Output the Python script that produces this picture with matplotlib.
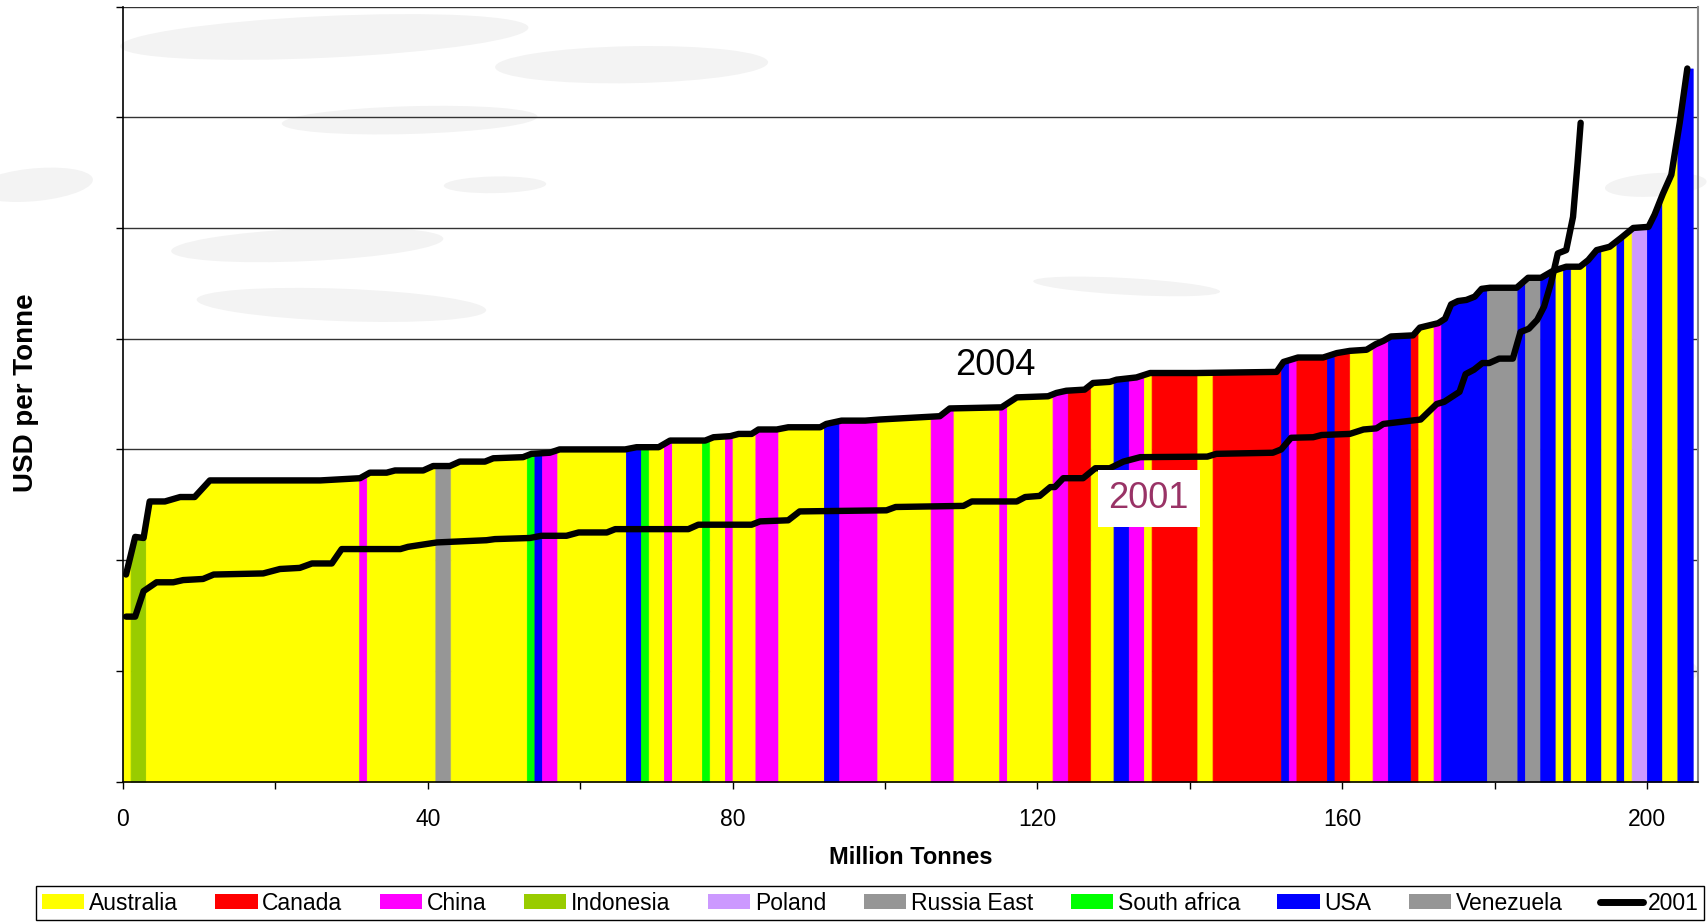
import numpy as np
import matplotlib
matplotlib.use("Agg")
import matplotlib.pyplot as plt
from matplotlib.patches import Patch, Ellipse
from matplotlib.lines import Line2D
from matplotlib import font_manager

# cumulative tonnage boundaries of each supply block (Mt) and the country of each block
band_edges = [0, 1, 3, 31, 32, 41, 43, 53, 54, 55, 57, 66, 68, 69, 71, 72, 76, 77, 79, 80,
              83, 86, 92, 94, 99, 106, 109, 115, 116, 122, 124, 127, 130, 132, 134, 135,
              141, 143, 152, 153, 154, 158, 159, 161, 164, 166, 169, 170, 172, 173, 179,
              183, 184, 186, 188, 189, 190, 192, 194, 196, 197, 198, 200, 202, 204, 206]
band_country = ['Australia', 'Indonesia', 'Australia', 'China', 'Australia', 'Venezuela',
                'Australia', 'South africa', 'USA', 'China', 'Australia', 'USA',
                'South africa', 'Australia', 'China', 'Australia', 'South africa',
                'Australia', 'China', 'Australia', 'China', 'Australia', 'USA', 'China',
                'Australia', 'China', 'Australia', 'China', 'Australia', 'China', 'Canada',
                'Australia', 'USA', 'China', 'Australia', 'Canada', 'Australia', 'Canada',
                'USA', 'China', 'Canada', 'USA', 'Canada', 'Australia', 'China', 'USA',
                'Canada', 'Australia', 'China', 'USA', 'Russia East', 'USA', 'Russia East',
                'USA', 'Australia', 'USA', 'Australia', 'USA', 'Australia', 'USA',
                'Australia', 'Poland', 'USA', 'Australia', 'USA']

# 2004 cost curve (USD per tonne)
x2004 = [0.4, 1.6, 2.7, 3.5, 5.5, 7.5, 9.4, 11.4, 25.9, 31.1, 32.4, 34.6, 35.7, 39.4, 40.7,
         42.9, 44.2, 47.5, 48.6, 52.5, 53.6, 56.0, 57.3, 65.9, 67.4, 70.3, 71.8, 76.4, 77.5,
         79.7, 80.8, 82.5, 83.4, 85.8, 87.3, 91.5, 92.3, 94.3, 97.4, 99.3, 107.2, 108.5,
         115.3, 117.3, 121.4, 122.5, 123.8, 126.2, 127.3, 129.5, 130.4, 133.0, 134.8, 140.9,
         151.4, 152.3, 154.2, 157.5, 159.3, 161.0, 163.2, 164.4, 165.4, 166.4, 169.3, 170.2,
         172.6, 173.5, 174.3, 175.2, 176.3, 177.4, 178.3, 179.4, 182.9, 184.4, 186.1, 187.6,
         189.4, 191.2, 192.3, 193.4, 195.1, 196.6, 198.2, 200.2, 201.0, 202.1, 203.2, 204.3,
         205.3]
y2004 = [18.7, 22.1, 22.0, 25.3, 25.3, 25.7, 25.7, 27.2, 27.2, 27.4, 27.9, 27.9, 28.1, 28.1,
         28.5, 28.5, 28.9, 28.9, 29.2, 29.3, 29.6, 29.7, 30.0, 30.0, 30.2, 30.2, 30.8, 30.8,
         31.1, 31.2, 31.4, 31.4, 31.8, 31.8, 32.0, 32.0, 32.3, 32.6, 32.6, 32.7, 33.0, 33.7,
         33.8, 34.7, 34.8, 35.1, 35.3, 35.4, 36.0, 36.1, 36.3, 36.5, 36.9, 36.9, 37.0, 37.9,
         38.3, 38.3, 38.7, 38.9, 39.0, 39.5, 39.8, 40.2, 40.3, 41.0, 41.4, 41.8, 43.1, 43.4,
         43.5, 43.8, 44.5, 44.6, 44.6, 45.5, 45.5, 46.1, 46.5, 46.5, 47.1, 48.0, 48.3, 49.1,
         50.0, 50.1, 51.2, 53.1, 54.8, 59.5, 64.4]

# 2001 cost curve (USD per tonne)
x2001 = [0.4, 1.6, 2.7, 4.4, 6.6, 7.9, 10.5, 11.9, 18.4, 20.6, 23.2, 24.8, 27.4, 28.7, 36.4,
         37.4, 41.2, 47.7, 48.8, 53.4, 54.9, 58.2, 59.8, 63.5, 64.6, 74.2, 75.5, 82.5, 83.6,
         87.3, 88.8, 100.2, 101.4, 110.3, 111.4, 117.3, 118.4, 120.3, 121.7, 122.3, 123.4,
         126.0, 127.6, 129.5, 131.3, 133.5, 142.3, 143.5, 150.9, 152.0, 153.3, 156.2, 157.3,
         161.0, 162.8, 164.5, 165.4, 170.3, 172.4, 173.4, 175.4, 176.2, 177.3, 178.4, 179.3,
         180.6, 182.4, 183.4, 184.5, 185.6, 186.5, 187.4, 188.3, 189.4, 190.3, 190.9, 191.3]
y2001 = [14.9, 14.9, 17.2, 18.0, 18.0, 18.2, 18.3, 18.7, 18.8, 19.2, 19.3, 19.7, 19.7, 21.0,
         21.0, 21.2, 21.6, 21.8, 21.9, 22.0, 22.2, 22.2, 22.5, 22.5, 22.8, 22.8, 23.2, 23.2,
         23.5, 23.6, 24.4, 24.5, 24.8, 24.9, 25.3, 25.3, 25.7, 25.8, 26.6, 26.6, 27.4, 27.4,
         28.3, 28.3, 28.9, 29.3, 29.35, 29.6, 29.7, 30.0, 31.05, 31.1, 31.3, 31.4, 31.8, 31.9,
         32.3, 32.7, 34.1, 34.3, 35.2, 36.8, 37.2, 37.8, 37.8, 38.2, 38.2, 40.6, 40.9, 41.7,
         42.9, 45.0, 47.7, 48.0, 51.0, 55.9, 59.5]

legend_names = ['Australia', 'Canada', 'China', 'Indonesia', 'Poland', 'Russia East',
                'South africa', 'USA', 'Venezuela']
legend_colors = ['#FFFF00', '#FF0000', '#FF00FF', '#99CC00', '#CC99FF', '#969696',
                 '#00FF00', '#0000FF', '#969696']
colors = dict(zip(legend_names, legend_colors))

# fonts: narrow face for ticks / legend if present
names = {f.name for f in font_manager.fontManager.ttflist}
if 'Liberation Sans Narrow' in names:
    narrow = 'Liberation Sans Narrow'
    small = 19.5
else:
    narrow = 'Liberation Sans'
    small = 16.5
plt.rcParams['font.family'] = ['Liberation Sans', 'DejaVu Sans']

fig = plt.figure(figsize=(17.07, 9.24), dpi=100)
fig.patch.set_facecolor('white')

# faint grey streaks in the background
streaks = [(0.19, 0.96, 0.24, 0.045, 5), (0.37, 0.93, 0.16, 0.04, 2), (0.24, 0.87, 0.15, 0.03, 3),
           (0.29, 0.80, 0.06, 0.018, 2), (0.02, 0.80, 0.07, 0.035, 12), (0.18, 0.735, 0.16, 0.035, 5),
           (0.20, 0.67, 0.17, 0.035, -4), (0.66, 0.69, 0.11, 0.018, -6), (0.30, 0.48, 0.06, 0.018, 0),
           (0.97, 0.80, 0.06, 0.025, 8), (0.96, 0.27, 0.07, 0.045, 10)]
for cx, cy, w, h, ang in streaks:
    fig.add_artist(Ellipse((cx, cy), w, h, angle=ang, transform=fig.transFigure,
                           facecolor='#f3f3f3', edgecolor='none', zorder=0))

ax = fig.add_axes([123 / 1707, 1 - 781.6 / 924, (1698 - 123) / 1707, (781.6 - 6.5) / 924])
ax.set_facecolor('none')
ax.set_zorder(1)

# coloured supply blocks up to the 2004 curve
for i, country in enumerate(band_country):
    a, b = band_edges[i], band_edges[i + 1]
    xs = [a] + [p for p in x2004 if a < p < b] + [b]
    ys = np.interp(xs, x2004, y2004)
    ax.fill_between(xs, 0, ys, facecolor=colors[country], edgecolor=colors[country],
                    linewidth=0.6, zorder=2)

ax.plot(x2004, y2004, color='black', lw=4.6, solid_capstyle='round',
        solid_joinstyle='round', zorder=4)
ax.plot(x2001, y2001, color='black', lw=4.6, solid_capstyle='round',
        solid_joinstyle='round', zorder=5)

ax.text(114.5, 37.55, '2004', fontsize=26, ha='center', va='center', color='black', zorder=6)
ax.text(134.6, 25.55, '2001', fontsize=26, ha='center', va='center', color='#993366', zorder=6,
        bbox=dict(boxstyle='square,pad=0.3', facecolor='white', edgecolor='none'))

ax.set_xlim(0, 206.7)
ax.set_ylim(0, 70)
ax.set_yticks(np.arange(0, 71, 10))
ax.set_yticklabels([])
ax.set_xticks(np.arange(0, 201, 20))
ax.set_xticklabels([str(v) if v % 40 == 0 else '' for v in range(0, 201, 20)],
                   fontfamily=narrow, fontsize=small)
ax.tick_params(axis='both', direction='out', length=5, width=1, color='black')
ax.tick_params(axis='x', pad=14)
ax.grid(axis='y', color='#333333', lw=1)
ax.set_axisbelow(True)
ax.spines['top'].set_visible(False)
ax.spines['right'].set_color('#888888')
ax.spines['right'].set_linewidth(1.5)
ax.spines['left'].set_linewidth(1.2)
ax.spines['bottom'].set_linewidth(1.2)

fig.text(911 / 1707, 1 - 857 / 924, 'Million Tonnes', fontsize=17, fontweight='bold',
         ha='center', va='center')
fig.text(26 / 1707, 1 - 393 / 924, 'USD per Tonne', fontsize=20, fontweight='bold',
         ha='center', va='center', rotation=90)

handles = [Patch(facecolor=c, edgecolor='none') for c in legend_colors]
handles.append(Line2D([0], [0], color='black', lw=5, solid_capstyle='round'))
labels = legend_names + ['2001']
leg = fig.legend(handles, labels, loc='upper left', ncol=10, mode='expand',
                 bbox_to_anchor=(36 / 1707, 1 - 886 / 924 - 0.2, (1704 - 36) / 1707, 0.2),
                 prop={'family': narrow, 'size': small}, frameon=True, fancybox=False,
                 framealpha=1, edgecolor='black', borderpad=0.25, handlelength=1.85,
                 handleheight=0.6, handletextpad=0.2, columnspacing=0.5, borderaxespad=0)
leg.get_frame().set_linewidth(1.0)

fig.savefig('out.png', dpi=100)
